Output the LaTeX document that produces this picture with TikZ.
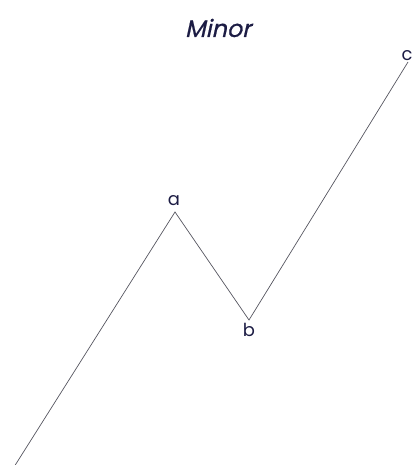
\documentclass[tikz,border=0pt]{standalone}
\usepackage{fontspec}
\newfontfamily\wavefont{Poppins}
\newfontfamily\wavetitlefont[FakeSlant=0.22,FakeBold=0.6]{Poppins}
\usetikzlibrary{positioning}
\definecolor{wavenavy}{HTML}{1C1C44}
\definecolor{wavegray}{HTML}{55555F}
\tikzset{
	wtitle/.style={font=\wavetitlefont\fontsize{24}{28}\selectfont, inner sep=0pt, text=wavenavy},
	wlabel/.style={font=\wavefont\fontsize{18}{22}\selectfont, inner sep=0pt, text=wavenavy},
	wline/.style={draw=wavegray, line width=0.7pt, line join=miter}
}

\begin{document}
\begin{tikzpicture}[x=1bp, y=-1bp]
	\useasboundingbox (0,0) rectangle (414,465);
	\node[wtitle] (title) at (218,28) {Minor};
	% turning points of the wave
	\coordinate (o) at (14,467);
	\coordinate (pa) at (175,212);
	\coordinate (pb) at (249,320);
	\coordinate (pc) at (408,62);
	\node[wlabel, above=6bp of pa, xshift=-1bp] (a) {a};
	\node[wlabel, below=3bp of pb] (b) {b};
	\node[wlabel, above=1bp of pc, xshift=-1bp] (c) {c};
	\draw[wline] (o) -- (pa) -- (pb) -- (pc);
\end{tikzpicture}
\end{document}
